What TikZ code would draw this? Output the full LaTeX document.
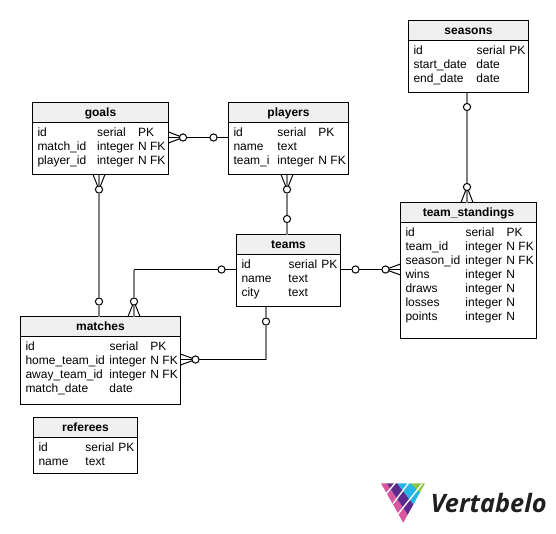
\documentclass[tikz,border=0pt]{standalone}
\usepackage{fontspec}
\setmainfont{Liberation Sans}
\newfontfamily\logofont{Open Sans}
\usetikzlibrary{positioning,calc}

\definecolor{headgray}{HTML}{EFEFEF}
\definecolor{logopink}{HTML}{D9579E}
\definecolor{logopurple}{HTML}{5E2A8E}
\definecolor{logoblue}{HTML}{27B5E8}
\definecolor{logogreen}{HTML}{8CC63F}

% column widths of a table, in picture pixels
\newcommand{\tablerows}[3]{\fontsize{9pt}{10.5pt}\selectfont
	\setlength{\tabcolsep}{0pt}\begin{tabular}{@{}p{#1}p{#2}l@{}}#3\end{tabular}}
% three strokes from a ring to the edge of a table
\newcommand{\crowfoot}[4][]{
	\draw[#1] (#2) -- (#3);
	\draw (#2) -- ($(#3)+(#4)$);
	\draw (#2) -- ($(#3)-(#4)$);}

\begin{document}
\begin{tikzpicture}[
	x=0.75pt, y=-0.75pt,
	line width=0.75pt,
	tablebox/.style={draw, fill=white, anchor=north west, inner sep=0pt, outer sep=0pt},
	tablehead/.style={draw, fill=headgray, anchor=north west, inner sep=0pt, outer sep=0pt, minimum height=15pt,
		text height=7pt, text depth=1pt, font=\fontsize{9pt}{10.5pt}\selectfont\bfseries},
	tablebody/.style={anchor=north west, inner sep=0pt, outer sep=0pt},
	ring/.style={draw, circle, fill=white, inner sep=0pt, outer sep=0pt, minimum size=5.4pt},
	upright/.style={draw=black!50, line width=1.5pt}]
	\useasboundingbox (0,0) rectangle (556,533);

	% tables
	\node[tablebox, minimum width=102pt, minimum height=54pt] (goals) at (32.5,102.5) {};
	\node[tablehead, minimum width=102pt] (goalshead) at (goals.north west) {goals};
	\node[tablebody] (goalsrows) at (37.5,127) {\tablerows{44.7pt}{30.75pt}{id & serial & PK\\ match\_id & integer & N FK\\ player\_id & integer & N FK}};

	\node[tablebox, minimum width=90pt, minimum height=54pt] (players) at (228.5,102.5) {};
	\node[tablehead, minimum width=90pt] (playershead) at (players.north west) {players};
	\node[tablebody] (playersrows) at (233.5,127) {\tablerows{33pt}{30.75pt}{id & serial & PK\\ name & text & \\ team\_i & integer & N FK}};

	\node[tablebox, minimum width=78pt, minimum height=54pt] (teams) at (236.5,234.5) {};
	\node[tablehead, minimum width=78pt] (teamshead) at (teams.north west) {teams};
	\node[tablebody] (teamsrows) at (241.5,259) {\tablerows{35.25pt}{24.75pt}{id & serial & PK\\ name & text & \\ city & text & }};

	\node[tablebox, minimum width=120pt, minimum height=66pt] (matches) at (20.5,316.5) {};
	\node[tablehead, minimum width=120pt] (matcheshead) at (matches.north west) {matches};
	\node[tablebody] (matchesrows) at (25.5,341) {\tablerows{63pt}{30.75pt}{id & serial & PK\\ home\_team\_id & integer & N FK\\ away\_team\_id & integer & N FK\\ match\_date & date & }};

	\node[tablebox, minimum width=90pt, minimum height=54pt] (seasons) at (408.5,20.5) {};
	\node[tablehead, minimum width=90pt] (seasonshead) at (seasons.north west) {seasons};
	\node[tablebody] (seasonsrows) at (413.5,45) {\tablerows{47.25pt}{24.75pt}{id & serial & PK\\ start\_date & date & \\ end\_date & date & }};

	\node[tablebox, minimum width=102pt, minimum height=102pt] (standings) at (400.5,202.5) {};
	\node[tablehead, minimum width=102pt] (standingshead) at (standings.north west) {team\_standings};
	\node[tablebody] (standingsrows) at (405.5,227) {\tablerows{45pt}{30.75pt}{id & serial & PK\\ team\_id & integer & N FK\\ season\_id & integer & N FK\\ wins & integer & N\\ draws & integer & N\\ losses & integer & N\\ points & integer & N}};

	\node[tablebox, minimum width=78pt, minimum height=42pt] (referees) at (33.5,417.5) {};
	\node[tablehead, minimum width=78pt] (refereeshead) at (referees.north west) {referees};
	\node[tablebody] (refereesrows) at (38.5,442) {\tablerows{35.25pt}{24.75pt}{id & serial & PK\\ name & text & }};

	% rings on the connectors
	\node[ring] (goalsmany) at (183,137.5) {};
	\node[ring] (playersone) at (213.5,137.5) {};
	\node[ring] (goalsdown) at (99,189.5) {};
	\node[ring] (matchesup) at (99,301.5) {};
	\node[ring] (playersdown) at (287,189.5) {};
	\node[ring] (teamsup) at (287,219) {};
	\node[ring] (teamsleft) at (221.5,269.5) {};
	\node[ring] (matchesmany) at (134,301.5) {};
	\node[ring] (teamsdown) at (266,321.5) {};
	\node[ring] (matchesright) at (195.5,359.5) {};
	\node[ring] (teamsright) at (355.5,269.5) {};
	\node[ring] (standingsleft) at (385.5,269.5) {};
	\node[ring] (seasonsdown) at (467,107) {};
	\node[ring] (standingsup) at (467,187) {};
	\coordinate (leftcorner) at (matchesmany |- teamsleft);
	\coordinate (rightcorner) at (teamsdown |- matchesright);

	% connectors
	\crowfoot{goalsmany}{goals.east |- goalsmany}{0,5.5}
	\draw (goalsmany) -- (playersone);
	\draw (playersone) -- (players.west |- playersone);

	\crowfoot[upright]{goalsdown}{goalsdown |- goals.south}{6,0}
	\draw[upright] (goalsdown) -- (matchesup);
	\draw[upright] (matchesup) -- (matchesup |- matches.north);

	\crowfoot[upright]{playersdown}{playersdown |- players.south}{6,0}
	\draw[upright] (playersdown) -- (teamsup);
	\draw[upright] (teamsup) -- (teamsup |- teams.north);

	\draw (teamsleft) -- (teams.west |- teamsleft);
	\draw (teamsleft) -- (leftcorner);
	\draw[upright] (leftcorner) -- (matchesmany);
	\crowfoot[upright]{matchesmany}{matchesmany |- matches.north}{6,0}

	\draw[upright] (teamsdown) -- (teamsdown |- teams.south);
	\draw[upright] (teamsdown) -- (rightcorner);
	\draw (rightcorner) -- (matchesright);
	\crowfoot{matchesright}{matches.east |- matchesright}{0,5.5}

	\draw (teamsright) -- (teams.east |- teamsright);
	\draw (teamsright) -- (standingsleft);
	\crowfoot{standingsleft}{standings.west |- standingsleft}{0,5.5}

	\draw[upright] (seasonsdown) -- (seasonsdown |- seasons.south);
	\draw[upright] (seasonsdown) -- (standingsup);
	\crowfoot[upright]{standingsup}{standingsup |- standings.north}{6,0}

	% logo
	\begin{scope}
		\clip (381,483.3) -- (425,483.3) -- (403.3,522.7) -- cycle;
		\fill[logopink] (381,483.3) -- (386.7,483.3) -- (412,521) -- (403,525) -- cycle;
		\fill[logopurple] (386.7,483.3) -- (397.3,483.3) -- (420,513) -- (412,521) -- cycle;
		\fill[logoblue] (397.3,483.3) -- (410.7,483.3) -- (428,500) -- (420,513) -- cycle;
		\fill[logogreen] (410.7,483.3) -- (426,483.3) -- (428,500) -- cycle;
	\end{scope}
	\draw[white, line width=1pt] (396,482) -- (386,494);
	\draw[white, line width=1pt] (409.3,482) -- (393,503.7);
	\draw[white, line width=1pt] (422,484) -- (398,514);
	\node[anchor=base west, inner sep=0pt, text=black!88, font=\logofont\bfseries\itshape\fontsize{19pt}{19pt}\selectfont] (logotext) at (430,512) {Vertabelo};
\end{tikzpicture}
\end{document}
